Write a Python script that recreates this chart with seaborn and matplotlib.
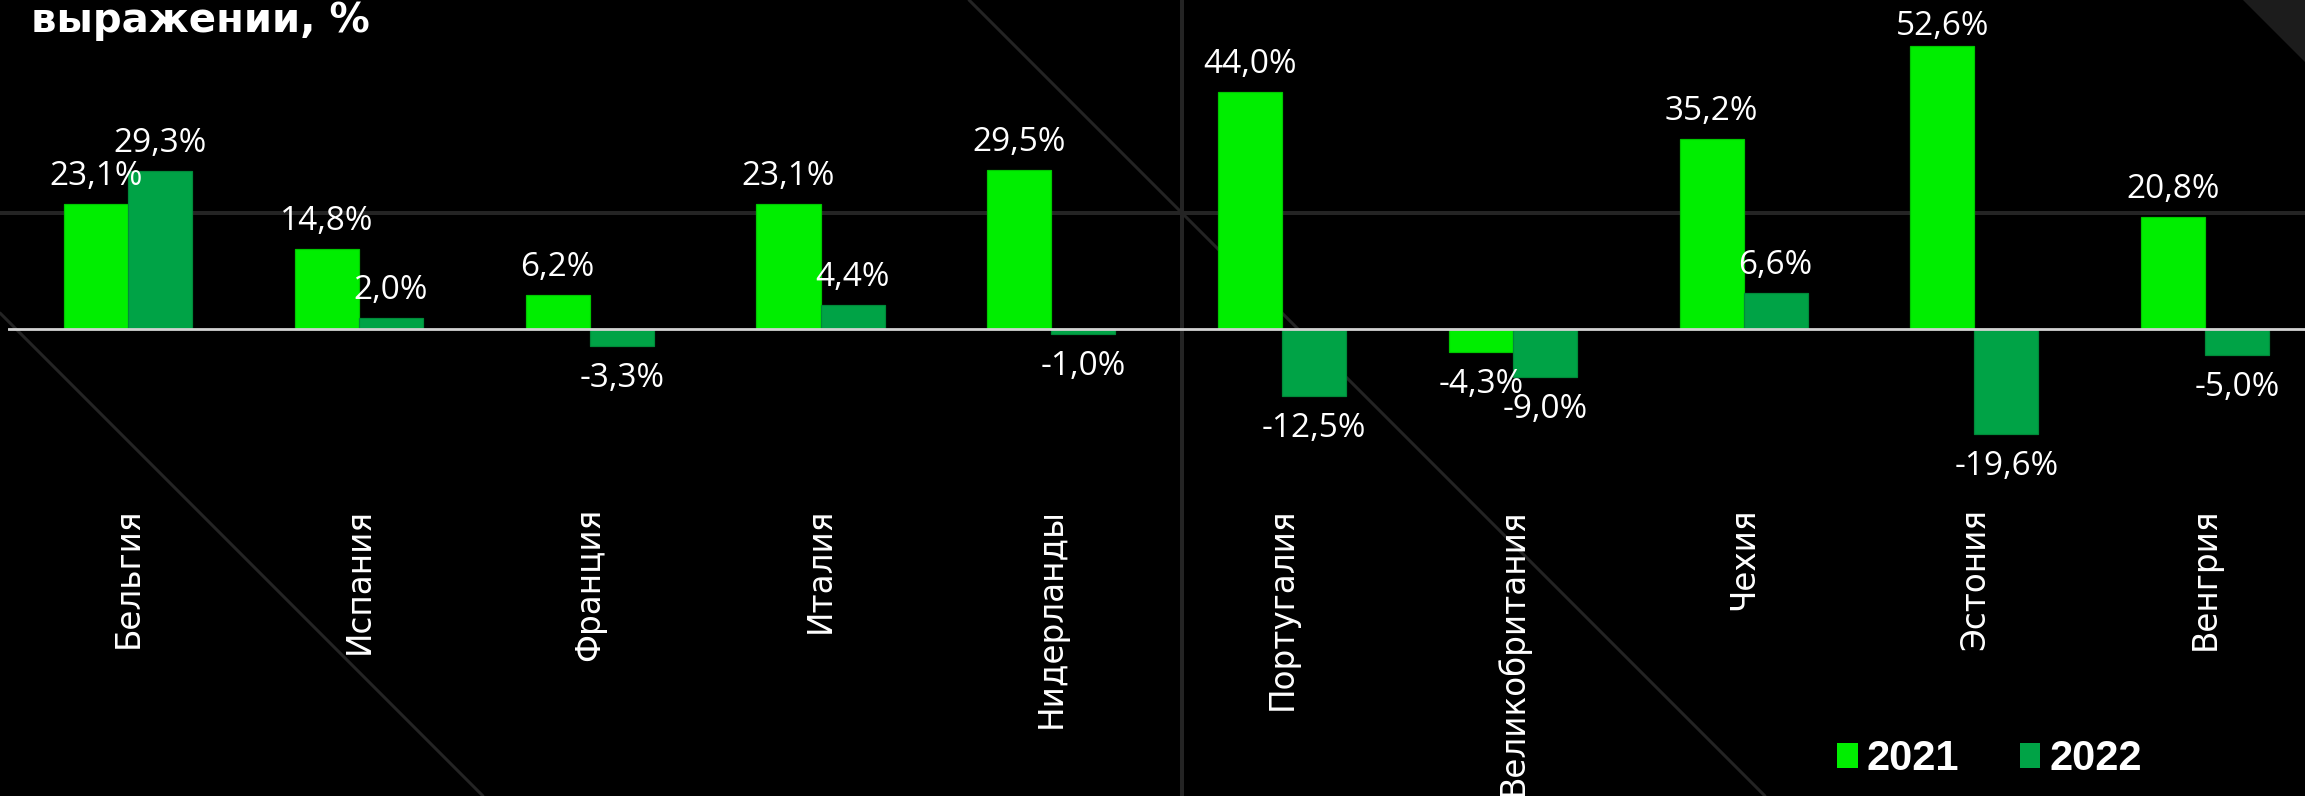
import matplotlib
matplotlib.use("Agg")
import matplotlib.pyplot as plt
from matplotlib.lines import Line2D
from matplotlib.patches import Polygon, Patch
import pandas as pd
import seaborn as sns

# --- data -----------------------------------------------------------------
countries = ["Бельгия", "Испания", "Франция", "Италия", "Нидерланды",
             "Португалия", "Великобритания", "Чехия", "Эстония", "Венгрия"]
years = ["2021", "2022"]
growth_2021 = [23.1, 14.8, 6.2, 23.1, 29.5, 44.0, -4.3, 35.2, 52.6, 20.8]
growth_2022 = [29.3, 2.0, -3.3, 4.4, -1.0, -12.5, -9.0, 6.6, -19.6, -5.0]
title_tail = "выражении, %"

# --- canvas ---------------------------------------------------------------
W, H, DPI = 2305, 796, 100
BG = "#000000"
C2021 = "#00EE00"
C2022 = "#00A346"
EDGE2021 = "#00C800"
EDGE2022 = "#008A3A"
DECO = "#242424"

df = pd.DataFrame({
    "country": countries * 2,
    "year": [years[0]] * len(countries) + [years[1]] * len(countries),
    "value": growth_2021 + growth_2022,
})

sns.set_theme(style="white")
plt.rcParams["font.family"] = ["DejaVu Sans"]

fig = plt.figure(figsize=(W / DPI, H / DPI), dpi=DPI, facecolor=BG)


def fx(px):
    return px / W


def fy(py):
    return 1 - py / H


def pt(px):
    return px * 72 / DPI


# decorative background grid and diagonals
for x0, y0, x1, y1, lw in [
    (0, 213, W, 213, 4),
    (1182, 0, 1182, H, 4),
    (969, 0, 969 + H, H, 3),
    (0, 313, H - 313, H, 3),
]:
    fig.add_artist(Line2D([fx(x0), fx(x1)], [fy(y0), fy(y1)],
                          transform=fig.transFigure, color=DECO,
                          lw=pt(lw), zorder=-2))
fig.add_artist(Polygon([(fx(2243), fy(0)), (fx(W), fy(0)), (fx(W), fy(62))],
                       closed=True, transform=fig.transFigure,
                       facecolor="#1c1c1c", edgecolor="none", zorder=-2))

# --- bars -----------------------------------------------------------------
AX_BOTTOM = 508  # px from top
ZERO_PX = 328.5
PX_PER_PCT = 5.37
ax = fig.add_axes([fx(8), fy(AX_BOTTOM), 1 - fx(8), AX_BOTTOM / H])
ax.set_facecolor("none")
ax.set_zorder(1)

sns.barplot(data=df, x="country", y="value", hue="year", order=countries,
            hue_order=years, palette=[C2021, C2022], saturation=1,
            width=0.555, legend=False, ax=ax, linewidth=pt(1.2))

for cont, edge in zip(ax.containers, [EDGE2021, EDGE2022]):
    for bar in cont:
        bar.set_edgecolor(edge)

ax.set_xlim(-0.521, 9.433)
ax.set_ylim(-(AX_BOTTOM - ZERO_PX) / PX_PER_PCT, ZERO_PX / PX_PER_PCT)
ax.axhline(0, color="#d2d2d2", lw=pt(2.8), zorder=5)


def fmt(v):
    return f"{v:.1f}".replace(".", ",") + "%"


# value labels: 19 px above positive bars (kept inside the canvas top),
# baseline 41 px below negative bars
TOP_BASELINE = 35
for cont, vals in zip(ax.containers, [growth_2021, growth_2022]):
    for bar, v in zip(cont, vals):
        x = bar.get_x() + bar.get_width() / 2
        if v >= 0:
            bar_top = ZERO_PX - v * PX_PER_PCT
            shift = min(19, bar_top - TOP_BASELINE)
            dy = pt(shift)
        else:
            dy = -pt(41)
        ax.annotate(fmt(v), (x, v), xytext=(0, dy),
                    textcoords="offset points", ha="center", va="baseline",
                    color="white", fontsize=24, fontweight="medium",
                    family=["Open Sans", "DejaVu Sans"], zorder=6,
                    annotation_clip=False)

ax.set_xticks(range(len(countries)))
ax.set_xticklabels(countries, rotation=90, color="white", fontsize=23.5)
ax.tick_params(axis="x", length=0, pad=0)
ax.set_yticks([])
ax.set_xlabel("")
ax.set_ylabel("")
for s in ax.spines.values():
    s.set_visible(False)

# --- title fragment and legend ------------------------------------------------
fig.text(fx(31), fy(32), title_tail, ha="left", va="baseline",
         fontsize=29, fontweight="bold", color="white")

handles = [Patch(facecolor=C2021, edgecolor="none"),
           Patch(facecolor=C2022, edgecolor="none")]
fig.legend(handles, years, loc="lower left",
           bbox_to_anchor=(fx(1837), fy(779)), bbox_transform=fig.transFigure,
           ncol=2, frameon=False,
           prop={"family": ["Liberation Sans"], "weight": "bold", "size": 30},
           labelcolor="white", handlelength=0.5, handleheight=0.53,
           handletextpad=0.22, columnspacing=1.44, borderpad=0,
           borderaxespad=0)

fig.savefig("out.png", dpi=DPI, facecolor=BG)
